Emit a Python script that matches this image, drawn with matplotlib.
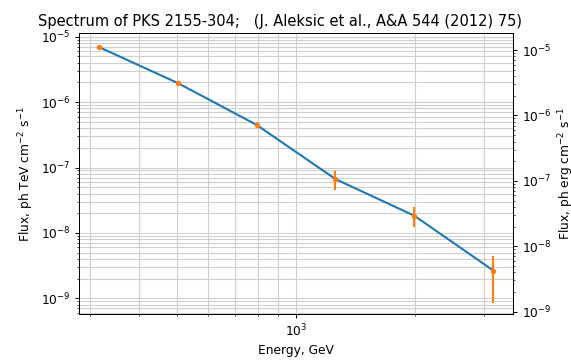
import matplotlib
matplotlib.use("Agg")
import matplotlib.pyplot as plt
from matplotlib.ticker import NullFormatter

energy_gev = [316.2, 501.2, 794.3, 1258.9, 1995.3, 3162.3]
flux = [6.97e-6, 1.96e-6, 4.49e-7, 6.65e-8, 1.83e-8, 2.66e-9]
flux_err = [0.5e-6, 0.15e-6, 0.045e-6, 2.15e-8, 0.62e-8, 1.8e-9]
tev_to_erg = 1.602

title = "Spectrum of PKS 2155-304;   (J. Aleksic et al., A&A 544 (2012) 75)"

W, H = 571, 360
DPI = 88
fig = plt.figure(figsize=(W/DPI, H/DPI), dpi=DPI)
ax = fig.add_axes([79/W, 1-314/H, (513-79)/W, (314-33.3)/H])

ax.plot(energy_gev, flux, color="C0", lw=1.7, zorder=3)
ax.errorbar(energy_gev, flux, yerr=flux_err, fmt=".", color="C1", lw=1.7,
            markersize=7, zorder=4)
ax.set_xscale("log")
ax.set_yscale("log")
ax.grid(True, which="both", color="#cfcfcf", lw=0.9)
ax.xaxis.set_minor_formatter(NullFormatter())
ylo, yhi = 10**-9.24, 10**-4.948
ax.set_ylim(ylo, yhi)
ax.set_xlabel("Energy, GeV")
ax.set_ylabel("Flux, ph TeV cm$^{-2}$ s$^{-1}$")
ax.set_title(title, x=(280-79)/434, fontsize=12)

ax2 = ax.twinx()
ax2.set_yscale("log")
ax2.set_ylim(ylo*tev_to_erg, yhi*tev_to_erg)
ax2.set_ylabel("Flux, ph erg cm$^{-2}$ s$^{-1}$")

fig.savefig("out.png", dpi=DPI)
